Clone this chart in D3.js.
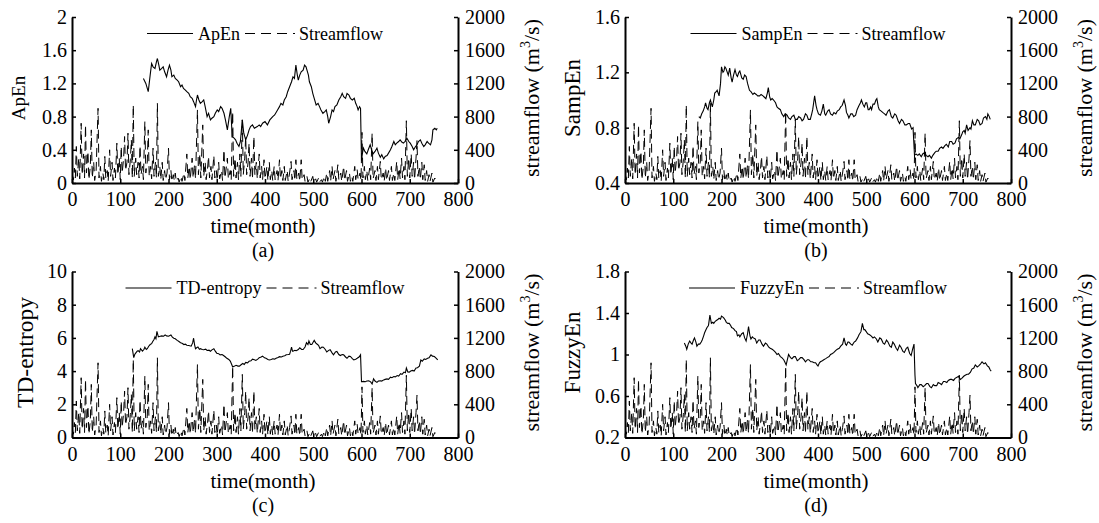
<!DOCTYPE html>
<html>
<head>
<meta charset="utf-8">
<script src="https://cdn.jsdelivr.net/npm/d3@7"></script>
<style>
  body { margin: 0; background: #fff; }
  svg text { font-family: "Liberation Serif", "Times New Roman", serif; fill: #000; }
</style>
</head>
<body>
<svg id="chart" width="1099" height="523"></svg>
<script>
// x ticks (months) and right-axis ticks (streamflow, m3/s)
const month_ticks = [0, 100, 200, 300, 400, 500, 600, 700, 800]
const flow_ticks = [0, 400, 800, 1200, 1600, 2000]

// left-axis ticks per entropy measure
const apen_ticks = [0, 0.4, 0.8, 1.2, 1.6, 2]
const sampen_ticks = [0.4, 0.8, 1.2, 1.6]
const td_ticks = [0, 2, 4, 6, 8, 10]
const fuzzy_ticks = [0.2, 0.6, 1, 1.4, 1.8]

// monthly streamflow, peaks and troughs [month, m3/s]
const streamflow = [
  [0,120],[3,40],[5,180],[7,60],[9,440],[11,80],[14,300],[16,50],[19,720],[21,100],[24,350],[26,60],
  [28,700],[30,120],[33,380],[35,40],[38,200],[40,640],[42,60],[45,250],[47,30],[50,150],[54,900],[56,60],
  [59,200],[61,20],[64,120],[66,40],[68,320],[70,60],[73,150],[75,20],[78,400],[80,80],[83,250],[85,30],
  [88,180],[90,60],[93,480],[95,100],[98,300],[100,40],[102,440],[104,120],[107,300],[109,560],[111,150],
  [114,250],[116,600],[118,100],[121,280],[123,520],[125,60],[127,940],[129,80],[132,300],[134,100],
  [137,250],[139,60],[141,450],[143,100],[146,200],[148,40],[151,740],[153,120],[156,250],[158,640],
  [160,80],[163,200],[165,50],[168,420],[170,80],[173,250],[175,60],[177,960],[179,80],[182,200],[184,40],
  [187,250],[189,30],[192,150],[194,40],[197,120],[200,420],[202,40],[205,150],[207,20],[210,100],[212,30],
  [214,120],[216,20],[220,60],[222,10],[226,80],[228,20],[232,120],[234,30],[238,350],[240,60],[243,200],
  [245,40],[249,300],[251,60],[254,220],[256,50],[260,880],[262,100],[265,350],[267,60],[271,700],[273,80],
  [276,250],[278,40],[281,180],[283,320],[285,60],[288,200],[290,40],[294,330],[296,60],[299,150],[301,30],
  [304,250],[306,50],[310,150],[312,30],[315,400],[317,60],[320,200],[322,300],[324,50],[328,150],[330,40],
  [333,860],[335,80],[338,300],[340,60],[343,250],[345,40],[348,350],[350,80],[353,760],[355,100],[358,300],
  [360,560],[362,100],[365,250],[367,480],[369,80],[372,300],[374,50],[377,560],[379,100],[382,250],[384,50],
  [388,350],[390,60],[393,200],[395,40],[398,280],[400,50],[404,200],[406,30],[409,250],[411,40],[414,150],
  [416,30],[419,200],[421,40],[425,150],[427,30],[430,280],[432,50],[435,150],[437,30],[440,200],[442,30],
  [446,150],[448,20],[451,120],[454,260],[456,40],[460,150],[462,30],[464,280],[466,40],[470,120],[472,20],
  [475,280],[477,40],[481,100],[483,20],[487,80],[489,10],[493,60],[495,20],[499,80],[501,10],[505,50],
  [507,10],[511,60],[513,10],[517,40],[519,10],[523,80],[525,20],[528,120],[530,20],[534,150],[536,20],
  [539,200],[541,40],[545,150],[547,20],[551,220],[553,40],[557,120],[559,20],[563,200],[565,30],[569,150],
  [571,20],[575,120],[577,20],[580,80],[582,20],[586,200],[588,40],[591,160],[593,40],[597,120],[599,30],
  [601,610],[603,60],[606,200],[608,40],[611,150],[613,30],[617,180],[619,40],[622,600],[624,50],[628,150],
  [630,30],[633,200],[635,40],[639,260],[641,40],[645,120],[647,20],[650,180],[652,30],[656,150],[658,30],
  [662,200],[664,30],[667,120],[669,30],[673,260],[675,40],[678,180],[680,50],[683,300],[685,60],[688,200],
  [690,40],[693,750],[695,80],[698,300],[700,60],[703,350],[705,80],[708,250],[710,40],[713,300],[715,510],
  [717,80],[720,200],[722,40],[725,250],[727,40],[730,220],[732,30],[735,150],[737,20],[740,100],[742,20],
  [746,120],[748,10],[752,60],[755,20],[757,10]
]

// entropy series [month, value]
const apen = [
  [148,1.26],[153,1.2],[158,1.10],[162,1.3],[165,1.44],[168,1.40],[172,1.38],[175,1.46],[177,1.50],[180,1.42],
  [182,1.36],[186,1.38],[189,1.40],[192,1.34],[196,1.28],[199,1.36],[202,1.42],[205,1.36],[207,1.28],[211,1.30],
  [214,1.26],[218,1.24],[221,1.22],[225,1.16],[228,1.18],[231,1.14],[235,1.12],[238,1.10],[242,1.08],[245,1.04],
  [249,1.02],[252,0.98],[256,0.92],[258,1.0],[260,1.06],[263,1.0],[266,0.96],[270,0.98],[273,1.0],[276,0.92],
  [280,0.80],[283,0.84],[287,0.76],[290,0.78],[294,0.80],[297,0.84],[301,0.88],[304,0.86],[308,0.92],[311,0.90],
  [315,0.84],[318,0.76],[322,0.64],[326,0.8],[329,0.90],[332,0.56],[336,0.54],[339,0.52],[342,0.48],[346,0.44],
  [349,0.50],[353,0.76],[356,0.60],[360,0.52],[364,0.58],[367,0.64],[370,0.68],[374,0.70],[378,0.66],[384,0.68],
  [388,0.70],[391,0.68],[395,0.72],[400,0.74],[405,0.70],[410,0.76],[416,0.80],[420,0.82],[426,0.88],[430,0.92],
  [433,0.96],[437,0.94],[440,1.0],[444,1.04],[447,1.10],[451,1.16],[455,1.22],[458,1.28],[461,1.26],[464,1.42],
  [467,1.30],[469,1.24],[472,1.30],[475,1.34],[479,1.36],[482,1.42],[485,1.40],[487,1.36],[490,1.30],[492,1.22],
  [496,1.16],[499,1.08],[502,1.02],[506,0.94],[510,0.96],[513,0.92],[516,0.88],[520,0.84],[524,0.86],[527,0.88],
  [530,0.80],[532,0.72],[536,0.80],[539,0.88],[542,0.86],[545,0.92],[549,0.94],[553,1.0],[557,1.04],[560,1.08],
  [563,1.04],[567,1.02],[570,1.08],[574,1.06],[577,1.02],[581,1.0],[585,1.02],[588,0.96],[591,0.92],[593,0.88],
  [596,0.92],[598,0.90],[600,0.27],[602,0.36],[604,0.42],[607,0.38],[611,0.35],[614,0.40],[618,0.46],[621,0.40],
  [624,0.35],[628,0.38],[632,0.42],[635,0.36],[639,0.31],[642,0.34],[646,0.29],[649,0.32],[653,0.33],[656,0.36],
  [660,0.40],[663,0.44],[667,0.50],[670,0.46],[673,0.48],[677,0.50],[680,0.52],[684,0.49],[687,0.48],[690,0.50],
  [694,0.54],[698,0.50],[701,0.48],[705,0.44],[708,0.40],[712,0.44],[715,0.46],[718,0.50],[722,0.52],[725,0.48],
  [729,0.44],[732,0.46],[736,0.50],[739,0.48],[743,0.46],[746,0.52],[748,0.64],[752,0.66],[755,0.64],[757,0.66]
]

const sampen = [
  [153,0.88],[156,0.87],[159,0.90],[162,0.92],[165,0.95],[167,0.98],[170,0.94],[172,0.93],[175,0.98],[177,1.0],
  [181,0.95],[184,1.0],[186,1.05],[189,1.06],[191,1.07],[195,1.03],[198,1.12],[200,1.24],[203,1.20],[205,1.21],
  [207,1.24],[209,1.23],[212,1.20],[214,1.18],[217,1.23],[220,1.16],[222,1.13],[225,1.18],[228,1.22],[231,1.18],
  [233,1.17],[236,1.20],[238,1.21],[242,1.16],[245,1.15],[248,1.18],[251,1.17],[254,1.12],[258,1.07],[261,1.06],
  [265,1.04],[268,1.05],[272,1.04],[275,1.03],[279,1.03],[282,1.04],[286,1.03],[289,1.02],[292,1.01],[295,1.05],
  [297,1.09],[300,1.02],[302,1.0],[305,1.01],[308,1.0],[312,0.98],[315,0.95],[318,0.94],[322,0.93],[325,0.90],
  [329,0.88],[332,0.90],[336,0.89],[339,0.87],[343,0.86],[346,0.88],[350,0.89],[353,0.86],[357,0.86],[360,0.88],
  [364,0.87],[367,0.85],[370,0.86],[374,0.90],[377,0.89],[380,0.86],[384,0.86],[387,0.90],[389,0.93],[391,0.98],
  [393,1.03],[396,0.96],[398,0.93],[401,0.90],[405,0.89],[408,0.92],[411,0.97],[414,0.90],[416,0.89],[420,0.92],
  [423,0.93],[426,0.90],[430,0.89],[433,0.91],[437,0.90],[440,0.92],[444,0.93],[447,0.95],[450,0.96],[454,1.0],
  [457,0.96],[459,0.91],[462,0.89],[464,0.87],[468,0.90],[471,0.90],[474,0.88],[478,0.89],[481,0.93],[485,0.96],
  [488,0.98],[490,1.0],[493,0.97],[496,0.95],[499,0.98],[501,0.98],[504,0.93],[506,0.93],[509,0.95],[511,0.93],
  [514,0.97],[517,0.97],[520,1.0],[522,1.01],[525,0.95],[527,0.93],[531,0.92],[534,0.91],[538,0.90],[541,0.89],
  [545,0.92],[548,0.93],[552,0.88],[555,0.87],[559,0.90],[562,0.89],[566,0.85],[569,0.83],[573,0.86],[576,0.85],
  [580,0.82],[583,0.82],[587,0.83],[590,0.83],[594,0.79],[597,0.80],[600,0.60],[603,0.61],[607,0.60],[610,0.61],
  [614,0.59],[617,0.61],[621,0.62],[624,0.60],[628,0.59],[631,0.60],[635,0.58],[638,0.60],[642,0.62],[645,0.63],
  [649,0.63],[652,0.65],[656,0.66],[659,0.65],[663,0.67],[666,0.68],[670,0.66],[673,0.70],[677,0.70],[680,0.68],
  [684,0.69],[687,0.72],[691,0.73],[694,0.72],[698,0.75],[700,0.77],[703,0.78],[705,0.76],[708,0.82],[711,0.78],
  [715,0.80],[717,0.79],[720,0.85],[723,0.82],[726,0.82],[730,0.86],[733,0.85],[736,0.82],[740,0.83],[743,0.87],
  [747,0.88],[750,0.86],[752,0.90],[755,0.88],[757,0.86]
]

const td_entropy = [
  [125,5.35],[128,4.81],[130,5.0],[132,5.08],[135,5.2],[137,5.23],[140,5.15],[142,5.35],[146,5.2],[149,5.3],
  [151,5.44],[154,5.3],[156,5.35],[159,5.5],[162,5.6],[165,5.65],[167,5.77],[170,5.9],[172,6.06],[174,5.95],
  [176,6.39],[179,6.06],[183,6.1],[186,6.12],[190,6.1],[193,6.18],[196,6.12],[200,6.1],[203,6.15],[205,6.18],
  [208,6.05],[211,5.98],[214,5.95],[218,5.85],[221,5.8],[225,5.71],[228,5.68],[232,5.6],[235,5.62],[238,5.56],
  [242,5.54],[247,5.5],[250,5.7],[252,5.98],[254,5.6],[256,5.35],[259,5.42],[261,5.45],[264,5.32],[266,5.35],
  [270,5.3],[273,5.29],[277,5.32],[280,5.24],[284,5.26],[287,5.2],[290,5.28],[294,5.35],[297,5.2],[300,5.08],
  [304,5.05],[307,4.98],[311,5.0],[314,4.94],[318,4.85],[321,4.77],[325,4.7],[328,4.6],[331,4.4],[333,4.25],
  [337,4.3],[340,4.35],[344,4.3],[347,4.3],[351,4.4],[354,4.46],[357,4.4],[360,4.52],[364,4.5],[367,4.6],
  [371,4.62],[374,4.72],[378,4.68],[381,4.64],[385,4.72],[388,4.81],[392,4.85],[395,4.9],[399,4.8],[402,4.77],
  [406,4.7],[409,4.67],[413,4.7],[416,4.74],[420,4.72],[423,4.77],[427,4.82],[430,4.87],[434,4.85],[437,4.9],
  [441,4.92],[444,4.98],[448,5.0],[451,5.02],[453,5.2],[455,5.44],[457,5.2],[458,5.2],[462,5.25],[465,5.23],
  [469,5.3],[472,5.4],[476,5.3],[479,5.3],[483,5.45],[486,5.71],[489,5.6],[491,5.81],[494,5.6],[497,5.6],
  [500,5.75],[502,5.85],[505,5.7],[507,5.65],[511,5.55],[514,5.35],[518,5.45],[521,5.44],[525,5.3],[528,5.15],
  [532,5.25],[535,5.29],[539,5.1],[542,4.98],[546,5.15],[549,5.19],[553,5.0],[556,4.94],[560,5.0],[563,4.98],
  [567,4.85],[570,4.77],[574,4.9],[577,4.88],[581,4.75],[584,4.67],[588,4.72],[591,4.77],[595,4.85],[598,4.98],
  [600,3.36],[604,3.38],[608,3.36],[611,3.4],[615,3.42],[619,3.35],[622,3.22],[625,3.53],[628,3.4],[632,3.32],
  [635,3.4],[639,3.42],[642,3.4],[646,3.47],[649,3.5],[653,3.53],[656,3.5],[660,3.63],[663,3.6],[667,3.67],
  [670,3.65],[674,3.73],[677,3.7],[681,3.84],[684,3.8],[688,3.94],[691,3.9],[693,4.19],[696,3.95],[699,3.94],
  [702,4.0],[706,4.04],[709,4.0],[713,4.19],[716,4.2],[720,4.3],[723,4.67],[726,4.6],[730,4.73],[733,4.7],
  [737,4.77],[740,4.8],[744,4.98],[747,4.9],[751,4.88],[754,4.8],[758,4.67]
]

const fuzzyen = [
  [123,1.11],[126,1.08],[128,1.05],[131,1.10],[134,1.13],[137,1.11],[139,1.10],[142,1.14],[144,1.16],[147,1.12],
  [149,1.08],[152,1.10],[155,1.10],[158,1.12],[160,1.14],[163,1.18],[165,1.21],[168,1.24],[170,1.26],[173,1.28],
  [176,1.38],[179,1.30],[182,1.31],[184,1.30],[187,1.32],[190,1.33],[193,1.34],[195,1.35],[198,1.34],[200,1.37],
  [203,1.36],[205,1.35],[208,1.33],[210,1.31],[213,1.30],[216,1.30],[219,1.28],[221,1.26],[225,1.25],[228,1.23],
  [231,1.22],[233,1.18],[236,1.19],[238,1.17],[242,1.20],[245,1.21],[248,1.16],[251,1.13],[254,1.20],[256,1.27],
  [259,1.18],[261,1.15],[264,1.17],[266,1.16],[270,1.15],[273,1.11],[277,1.14],[280,1.14],[284,1.10],[287,1.08],
  [291,1.11],[294,1.10],[298,1.07],[301,1.06],[305,1.05],[308,1.04],[312,1.02],[315,1.0],[318,1.01],[322,0.98],
  [325,0.97],[329,0.95],[331,0.93],[334,0.90],[337,0.96],[339,1.0],[343,0.97],[346,0.96],[350,0.98],[353,0.98],
  [357,0.94],[360,0.95],[364,0.97],[367,0.97],[371,0.95],[374,0.93],[378,0.95],[381,0.95],[385,0.93],[388,0.93],
  [392,0.92],[395,0.92],[398,0.90],[400,0.89],[403,0.92],[405,0.93],[409,0.94],[412,0.95],[416,0.96],[419,0.97],
  [423,0.98],[426,1.0],[430,1.01],[433,1.02],[437,1.04],[440,1.05],[444,1.06],[447,1.08],[451,1.10],[454,1.16],
  [457,1.10],[459,1.09],[462,1.12],[464,1.12],[468,1.10],[471,1.09],[475,1.12],[478,1.13],[482,1.16],[485,1.19],
  [489,1.22],[492,1.30],[495,1.24],[497,1.24],[500,1.22],[503,1.20],[507,1.19],[510,1.18],[514,1.16],[517,1.17],
  [521,1.15],[524,1.12],[528,1.16],[531,1.15],[535,1.11],[538,1.10],[542,1.14],[545,1.12],[549,1.08],[552,1.07],
  [555,1.12],[558,1.10],[562,1.06],[565,1.04],[569,1.09],[572,1.07],[576,1.03],[579,1.02],[583,1.06],[586,1.07],
  [590,1.01],[593,0.99],[596,1.05],[599,1.10],[601,0.80],[602,0.72],[605,0.70],[607,0.68],[611,0.71],[614,0.71],
  [618,0.69],[621,0.70],[625,0.72],[628,0.72],[632,0.69],[635,0.68],[639,0.71],[642,0.70],[646,0.70],[649,0.73],
  [653,0.72],[656,0.71],[660,0.74],[663,0.74],[667,0.73],[670,0.75],[674,0.76],[677,0.76],[681,0.75],[684,0.77],
  [688,0.78],[691,0.79],[695,0.76],[698,0.77],[702,0.79],[705,0.80],[709,0.81],[712,0.81],[716,0.83],[719,0.86],
  [723,0.87],[726,0.90],[730,0.88],[733,0.89],[737,0.91],[740,0.93],[744,0.91],[747,0.92],[751,0.89],[754,0.88],
  [757,0.85],[759,0.84]
]

const svg = d3.select('#chart')
const plot_w = 386
const plot_h = 166

// Panel layout
const panels = [
  { key: 'a', name: 'ApEn', series: apen, domain: [0, 2], ticks: apen_ticks, left: 72, top: 17, ylabel_x: 25, ylabel_size: 19 },
  { key: 'b', name: 'SampEn', series: sampen, domain: [0.4, 1.6], ticks: sampen_ticks, left: 625, top: 17, ylabel_x: 580, ylabel_size: 23 },
  { key: 'c', name: 'TD-entropy', series: td_entropy, domain: [0, 10], ticks: td_ticks, left: 72, top: 271.5, ylabel_x: 33, ylabel_size: 23.5 },
  { key: 'd', name: 'FuzzyEn', series: fuzzyen, domain: [0.2, 1.8], ticks: fuzzy_ticks, left: 625, top: 271.5, ylabel_x: 580, ylabel_size: 23 }
]

function style_axis(g, size) {
  g.attr('font-family', null).attr('font-size', null)
  g.selectAll('text').style('font-size', size + 'px')
  g.select('.domain').attr('stroke', '#000').attr('stroke-width', 2)
  g.selectAll('.tick line').attr('stroke', '#000').attr('stroke-width', 1.5)
}

panels.forEach(function(p) {
  let g = svg.append('g').attr('transform', `translate(${p.left},${p.top})`)

  let x = d3.scaleLinear().domain([0, 800]).range([0, plot_w])
  let y = d3.scaleLinear().domain(p.domain).range([plot_h, 0])
  let y_flow = d3.scaleLinear().domain([0, 2000]).range([plot_h, 0])

  // Clip
  g.append('clipPath').attr('id', `clip-${p.key}`)
    .append('rect').attr('width', plot_w).attr('height', plot_h)

  // Streamflow (dashed) then entropy (solid)
  let flow_line = d3.line().x(d => x(d[0])).y(d => y_flow(d[1]))
  g.append('path')
    .datum(streamflow)
    .attr('clip-path', `url(#clip-${p.key})`)
    .attr('d', flow_line)
    .attr('fill', 'none')
    .attr('stroke', '#000')
    .attr('stroke-width', 1)
    .attr('stroke-dasharray', '9,5')

  let ent_line = d3.line().x(d => x(d[0])).y(d => y(d[1]))
  g.append('path')
    .datum(p.series)
    .attr('clip-path', `url(#clip-${p.key})`)
    .attr('d', ent_line)
    .attr('fill', 'none')
    .attr('stroke', '#000')
    .attr('stroke-width', 1.1)

  // Axes (inward ticks, no box)
  let gx = g.append('g').attr('transform', `translate(0,${plot_h})`)
    .call(d3.axisBottom(x).tickValues(month_ticks).tickFormat(d3.format('d'))
      .tickSizeInner(-4).tickSizeOuter(0).tickPadding(9))
  style_axis(gx, 20)

  let gy = g.append('g')
    .call(d3.axisLeft(y).tickValues(p.ticks).tickFormat(d => String(d))
      .tickSizeInner(-4).tickSizeOuter(0).tickPadding(5))
  style_axis(gy, 20)

  let gr = g.append('g').attr('transform', `translate(${plot_w},0)`)
    .call(d3.axisRight(y_flow).tickValues(flow_ticks).tickFormat(d3.format('d'))
      .tickSizeInner(-4).tickSizeOuter(0).tickPadding(7))
  style_axis(gr, 20)

  // Axis labels
  svg.append('text')
    .attr('transform', `translate(${p.ylabel_x},${p.top + plot_h / 2 - 2}) rotate(-90)`)
    .attr('text-anchor', 'middle')
    .style('font-size', p.ylabel_size + 'px')
    .text(p.name)

  let rl = svg.append('text')
    .attr('transform', `translate(${p.left + plot_w + 81},${p.top + plot_h / 2 - 2}) rotate(-90)`)
    .attr('text-anchor', 'middle')
    .style('font-size', '22px')
  rl.append('tspan').text('streamflow (m')
  rl.append('tspan').attr('dy', -9).style('font-size', '14px').text('3')
  rl.append('tspan').attr('dy', 9).text('/s)')

  svg.append('text')
    .attr('x', p.left + plot_w / 2 - 2)
    .attr('y', p.top + plot_h + 50)
    .attr('text-anchor', 'middle')
    .style('font-size', '21px')
    .text('time(month)')

  svg.append('text')
    .attr('x', p.left + plot_w / 2 - 2)
    .attr('y', p.top + plot_h + 74)
    .attr('text-anchor', 'middle')
    .style('font-size', '20px')
    .text(`(${p.key})`)

  // Legend
  let lg = g.append('g')
  let ly = 16.5
  let t1 = lg.append('text').attr('y', ly + 6).style('font-size', '18px').text(p.name)
  let t2 = lg.append('text').attr('y', ly + 6).style('font-size', '18px').text('Streamflow')
  let w1 = t1.node().getComputedTextLength()
  let w2 = t2.node().getComputedTextLength()
  let total = 46 + 5 + w1 + 5 + 50 + 4 + w2
  let sx = plot_w / 2 - total / 2
  lg.append('line').attr('x1', sx).attr('x2', sx + 46).attr('y1', ly).attr('y2', ly)
    .attr('stroke', '#000').attr('stroke-width', 1.2)
  t1.attr('x', sx + 51)
  let dx = sx + 51 + w1 + 5
  lg.append('line').attr('x1', dx).attr('x2', dx + 50).attr('y1', ly).attr('y2', ly)
    .attr('stroke', '#000').attr('stroke-width', 1).attr('stroke-dasharray', '10,6')
  t2.attr('x', dx + 54)
})
</script>
</body>
</html>
